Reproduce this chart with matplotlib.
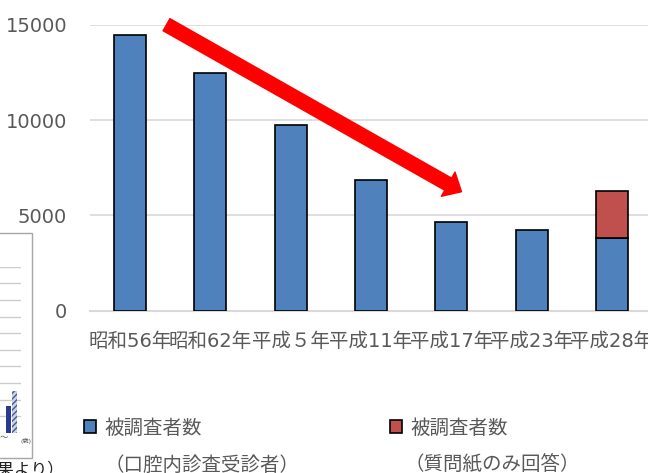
import matplotlib
matplotlib.use("Agg")
import matplotlib.pyplot as plt
from matplotlib.patches import FancyArrowPatch, Rectangle, Patch
import numpy as np

plt.rcParams['font.family'] = ['DejaVu Sans', 'Noto Sans CJK JP']

# data
years = ['昭和56年', '昭和62年', '平成５年', '平成11年', '平成17年', '平成23年', '平成28年']
exam_counts = [14460, 12460, 9760, 6860, 4630, 4250, 3790]      # 口腔内診査受診者
question_only = [0, 0, 0, 0, 0, 0, 2470]                          # 質問紙のみ回答
legend_labels = ['被調査者数', '被調査者数']
legend_sub = ['（口腔内診査受診者）', '（質問紙のみ回答）']

# small pasted chart on the left (only its right edge is visible)
inset_groups = [-1, 0]
inset_dark = [1.0, 1.6]
inset_hatch = [0.8, 2.5]

W, H = 648, 473
def fx(p):
    return p / W
def fy(p):
    return 1 - p / H

fig = plt.figure(figsize=(6.48, 4.73), dpi=100)

ax = fig.add_axes([fx(90), fy(310.7), (652 - 90) / W, (310.7 - 24.7) / H])
x = np.arange(len(years))
blue = ax.bar(x, exam_counts, width=0.4, color='#4F81BD', edgecolor='black', linewidth=1.2, zorder=3)
mask = np.array(question_only) > 0
red = ax.bar(x[mask], np.array(question_only)[mask], bottom=np.array(exam_counts)[mask],
             width=0.4, color='#C0504D', edgecolor='black', linewidth=1.2, zorder=3)

ax.set_xlim(-0.5, len(years) - 0.5)
ax.set_ylim(0, 15000)
ax.set_yticks([0, 5000, 10000, 15000])
ax.set_xticks(x)
ax.set_xticklabels(years, fontsize=14, color='#595959')
ax.tick_params(axis='y', length=0, pad=16.5, labelsize=14, labelcolor='#595959')
ax.tick_params(axis='x', length=0, pad=15.5)
ax.grid(axis='y', color='#D9D9D9', linewidth=1.2, zorder=0)
for s in ['top', 'right', 'left']:
    ax.spines[s].set_visible(False)
ax.spines['bottom'].set_color('#D9D9D9')
ax.spines['bottom'].set_linewidth(1.5)

# red trend arrow
arr = FancyArrowPatch((0.453, 15000), (4.127, 6240),
                      arrowstyle='simple,head_length=1.1,head_width=2.0,tail_width=1.0',
                      mutation_scale=10, color='red', shrinkA=0, shrinkB=0,
                      clip_on=False, zorder=5)
ax.add_patch(arr)

# legend
handles = [Patch(facecolor='#4F81BD', edgecolor='black', linewidth=1.2),
           Patch(facecolor='#C0504D', edgecolor='black', linewidth=1.2)]
leg = fig.legend(handles, legend_labels, loc='center left', bbox_to_anchor=(fx(84.3), fy(428)),
                 ncol=2, frameon=False, fontsize=14, handlelength=0.62, handleheight=0.62,
                 handletextpad=0.41, columnspacing=9.7, borderpad=0, borderaxespad=0)
for t in leg.get_texts():
    t.set_color('#595959')
fig.text(fx(104), fy(465), legend_sub[0], fontsize=14, color='#595959', va='center')
fig.text(fx(404), fy(465), legend_sub[1], fontsize=14, color='#595959', va='center')

# left inset fragment
ax_in = fig.add_axes([fx(-80), fy(433), 101 / W, (433 - 266.7) / H])
ax_in.bar(np.array(inset_groups) - 0.167, inset_dark, width=0.28, color='#2B3A8C', zorder=3)
ax_in.bar(np.array(inset_groups) + 0.19, inset_hatch, width=0.30, color='#C9D3E8',
          edgecolor='#4A5A8A', hatch='//////', linewidth=0, zorder=3)
ax_in.set_xlim(-5.5, 0.6)
ax_in.set_ylim(0, 10)
ax_in.set_yticks(range(11))
ax_in.set_xticks([])
ax_in.tick_params(length=0, labelleft=False)
ax_in.grid(axis='y', color='#CCCCCC', linewidth=1.0, zorder=0)
for s in ax_in.spines.values():
    s.set_visible(False)
ax_in.patch.set_alpha(0)
fig.add_artist(Rectangle((fx(-10), fy(458)), 42 / W, (458 - 232.7) / H,
                         transform=fig.transFigure, fill=False, edgecolor='#A6A6A6', linewidth=1.0))
fig.text(fx(0), fy(437), '〜', fontsize=6, color='#555555', va='center')
fig.text(fx(20.5), fy(441), '(歳)', fontsize=4.5, color='#555555', va='center')
fig.text(fx(64), fy(460), '査結果より）', fontsize=12, color='#222222', ha='right', va='top')

fig.savefig('out.png', dpi=100)
